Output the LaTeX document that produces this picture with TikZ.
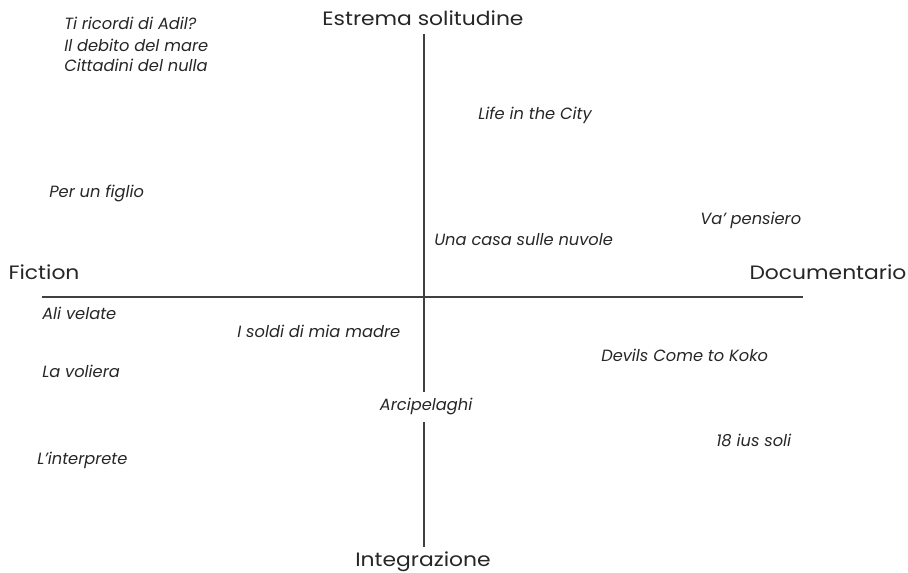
\documentclass[tikz,border=0pt]{standalone}
\usepackage{fontspec}
\setmainfont{Poppins}
\newfontfamily\axisfont{Poppins}[FakeStretch=1.13]
\begin{document}
\begin{tikzpicture}[x=0.75pt,y=-0.75pt,
  axislabel/.style={inner sep=0pt,font=\axisfont\fontsize{14.5pt}{17pt}\selectfont,text=black!85},
  film/.style={inner sep=0pt,anchor=west,font=\itshape\fontsize{12.2pt}{14pt}\selectfont,text=black!85},
  axisline/.style={line width=0.9pt,draw=black!75}]
\useasboundingbox (0,0) rectangle (908,573);
% axes
\coordinate (vt) at (424,34);
\coordinate (vb) at (424,547);
\coordinate (hl) at (42,297);
\coordinate (hr) at (803,297);
\draw[axisline] (vt) -- (vb);
\draw[axisline] (hl) -- (hr);
% axis labels
\node[axislabel] (top) at (423,18) {Estrema solitudine};
\node[axislabel] (bot) at (423,562) {Integrazione};
\node[axislabel] (left) at (44,272) {Fiction};
\node[axislabel] (right) at (828,272) {Documentario};
% films
\node[film] (f1) at (64,23) {Ti ricordi di Adil?};
\node[film] (f2) at (64,45) {Il debito del mare};
\node[film] (f3) at (64,65) {Cittadini del nulla};
\node[film] (f4) at (478,115) {Life in the City};
\node[film] (f5) at (49,193) {Per un figlio};
\node[film] (f6) at (700,220) {Va’ pensiero};
\node[film] (f7) at (434,240) {Una casa sulle nuvole};
\node[film] (f8) at (42,313) {Ali velate};
\node[film] (f9) at (237,331) {I soldi di mia madre};
\node[film] (f10) at (601,355) {Devils Come to Koko};
\node[film] (f11) at (42,371) {La voliera};
\node[film,fill=white,inner ysep=5pt,inner xsep=2pt] (f12) at (377,407) {Arcipelaghi};
\node[film] (f13) at (716,440) {18 ius soli};
\node[film] (f14) at (37,460) {L’interprete};
\end{tikzpicture}
\end{document}
